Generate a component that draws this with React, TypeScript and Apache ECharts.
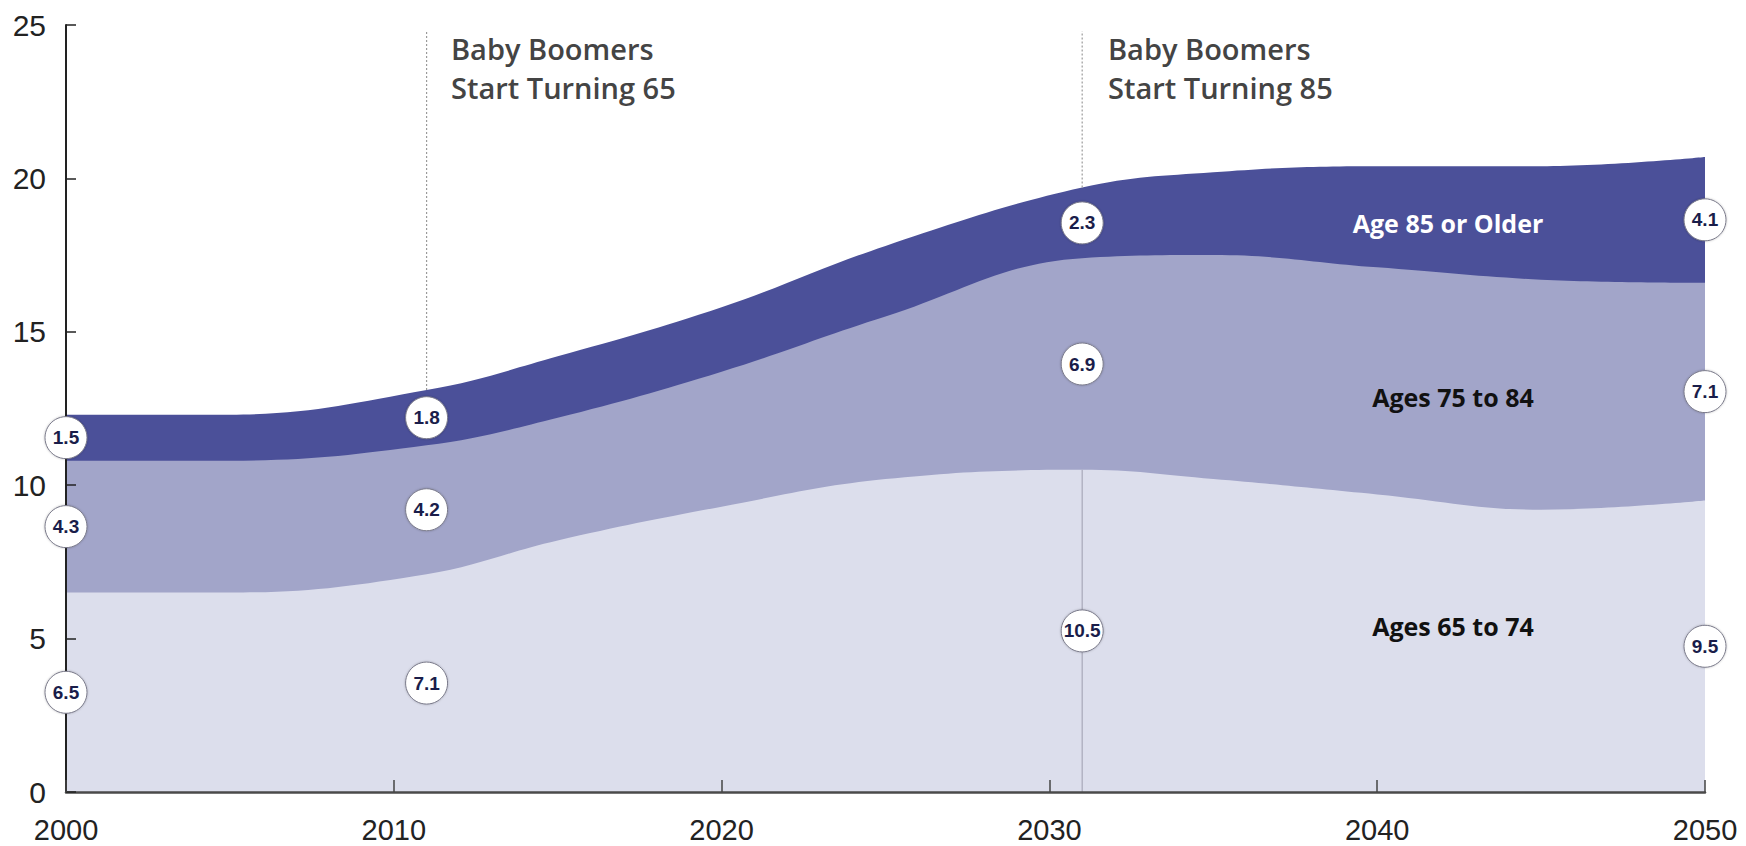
import React, { useEffect, useRef } from "react";
import * as echarts from "echarts";

// ---- data ----
const years = [2000, 2005, 2011, 2015, 2020, 2025, 2031, 2035, 2040, 2045, 2050];
const ages65to74 = [6.5, 6.5, 7.1, 8.2, 9.3, 10.2, 10.5, 10.2, 9.7, 9.2, 9.5];
const ages75to84 = [4.3, 4.3, 4.2, 4.0, 4.4, 5.3, 6.9, 7.3, 7.4, 7.5, 7.1];
const age85plus = [1.5, 1.5, 1.8, 2.0, 2.1, 2.3, 2.3, 2.7, 3.3, 3.7, 4.1];
const seriesNames = ["Ages 65 to 74", "Ages 75 to 84", "Age 85 or Older"];
const labelYears = [2000, 2011, 2031, 2050];
const milestoneYears = [2011, 2031];
const milestoneTexts = ["Baby Boomers\nStart Turning 65", "Baby Boomers\nStart Turning 85"];
const xTicks = [2000, 2010, 2020, 2030, 2040, 2050];
const yTicks = [0, 5, 10, 15, 20, 25];
const milestoneTop = 24.8;

const colors = ["#dcdeec", "#a2a5c9", "#4b5099"];
const axisFont = "'Liberation Sans Narrow', 'Liberation Sans', Arial, sans-serif";
const textFont = "'Open Sans', 'Noto Sans', sans-serif";

export default function App() {
  const ref = useRef<HTMLDivElement>(null);
  useEffect(() => {
    if (!ref.current) return;
    const chart = echarts.init(ref.current, null, { renderer: "svg" });
    const layers = [ages65to74, ages75to84, age85plus];

    const cumulative: number[][] = [];
    layers.forEach((arr, k) => {
      cumulative.push(arr.map((v, i) => (k === 0 ? 0 : cumulative[k - 1][i]) + v));
    });

    const circleData: any[] = [];
    labelYears.forEach((yr) => {
      const i = years.indexOf(yr);
      let base = 0;
      layers.forEach((arr) => {
        const v = arr[i];
        circleData.push([yr, base + v / 2, v]);
        base += v;
      });
    });

    const milestoneSeries: any[] = [];
    milestoneYears.forEach((yr) => {
      const i = years.indexOf(yr);
      const total = cumulative[2][i];
      milestoneSeries.push({
        type: "line",
        data: [[yr, total], [yr, milestoneTop]],
        symbol: "none",
        lineStyle: { color: "#9a9a9a", width: 1.2, type: [2, 2] },
        z: 5,
        silent: true,
      });
    });
    {
      const yr = milestoneYears[1];
      const i = years.indexOf(yr);
      milestoneSeries.push({
        type: "line",
        data: [[yr, 0], [yr, ages65to74[i]]],
        symbol: "none",
        lineStyle: { color: "#a8a8b8", width: 1.2 },
        z: 5,
        silent: true,
      });
    }

    const areaSeries = [2, 1, 0].map((k) => ({
      name: seriesNames[k],
      type: "line",
      smooth: 0.4,
      symbol: "none",
      lineStyle: { width: 0 },
      areaStyle: { color: colors[k], opacity: 1 },
      data: years.map((y, i) => [y, cumulative[k][i]]),
      z: 2,
      silent: true,
    }));

    const option: any = {
      animation: false,
      backgroundColor: "#ffffff",
      grid: { left: 66, right: 41, top: 25, bottom: 54 },
      xAxis: {
        type: "value",
        min: xTicks[0],
        max: xTicks[xTicks.length - 1],
        interval: 10,
        axisLine: { show: true, lineStyle: { color: "#4a4a4a", width: 2.5 } },
        axisTick: { show: true, inside: true, length: 12, lineStyle: { color: "#444", width: 1.5 } },
        axisLabel: {
          fontSize: 29,
          color: "#222",
          margin: 23,
          fontFamily: axisFont,
          showMinLabel: true,
          showMaxLabel: true,
          formatter: (v: number) => String(v),
        },
        splitLine: { show: false },
        z: 10,
      },
      yAxis: {
        type: "value",
        min: yTicks[0],
        max: yTicks[yTicks.length - 1],
        interval: 5,
        axisLine: { show: true, lineStyle: { color: "#222", width: 2 } },
        axisTick: { show: true, inside: true, length: 10, lineStyle: { color: "#222", width: 1.5 } },
        axisLabel: { fontSize: 30, color: "#222", margin: 20, fontFamily: axisFont },
        splitLine: { show: false },
        z: 10,
      },
      series: [
        ...areaSeries,
        ...milestoneSeries,
        {
          type: "scatter",
          data: circleData,
          symbol: "circle",
          symbolSize: 42,
          clip: false,
          itemStyle: {
            color: "#ffffff",
            opacity: 1,
            borderColor: "#7a7a8a",
            borderWidth: 1,
            shadowColor: "rgba(0,0,0,0.25)",
            shadowBlur: 2,
          },
          label: {
            show: true,
            position: "inside",
            formatter: (p: any) => p.value[2].toFixed(1),
            color: "#1a1d4a",
            fontSize: 19,
            fontWeight: "bold",
            fontFamily: axisFont,
          },
          z: 20,
          silent: true,
        },
      ],
      graphic: [
        ...milestoneTexts.map((t, k) => ({
          type: "text",
          x: k === 0 ? 451 : 1108,
          y: 29,
          style: {
            text: t,
            fill: "#444",
            fontSize: 29,
            fontWeight: 600,
            fontFamily: textFont,
            lineHeight: 39,
          },
          z: 30,
        })),
        {
          type: "text",
          x: 1448,
          y: 223,
          style: {
            text: seriesNames[2],
            fill: "#ffffff",
            fontSize: 25,
            fontWeight: 700,
            fontFamily: textFont,
            textAlign: "center",
            textVerticalAlign: "middle",
          },
          z: 30,
        },
        {
          type: "text",
          x: 1453,
          y: 397,
          style: {
            text: seriesNames[1],
            fill: "#111",
            fontSize: 25,
            fontWeight: 700,
            fontFamily: textFont,
            textAlign: "center",
            textVerticalAlign: "middle",
          },
          z: 30,
        },
        {
          type: "text",
          x: 1453,
          y: 626,
          style: {
            text: seriesNames[0],
            fill: "#111",
            fontSize: 25,
            fontWeight: 700,
            fontFamily: textFont,
            textAlign: "center",
            textVerticalAlign: "middle",
          },
          z: 30,
        },
      ],
    };
    chart.setOption(option);
    return () => chart.dispose();
  }, []);
  return (
    <div
      ref={ref}
      style={{ position: "absolute", left: 0, top: 0, width: 1746, height: 846 }}
    />
  );
}
